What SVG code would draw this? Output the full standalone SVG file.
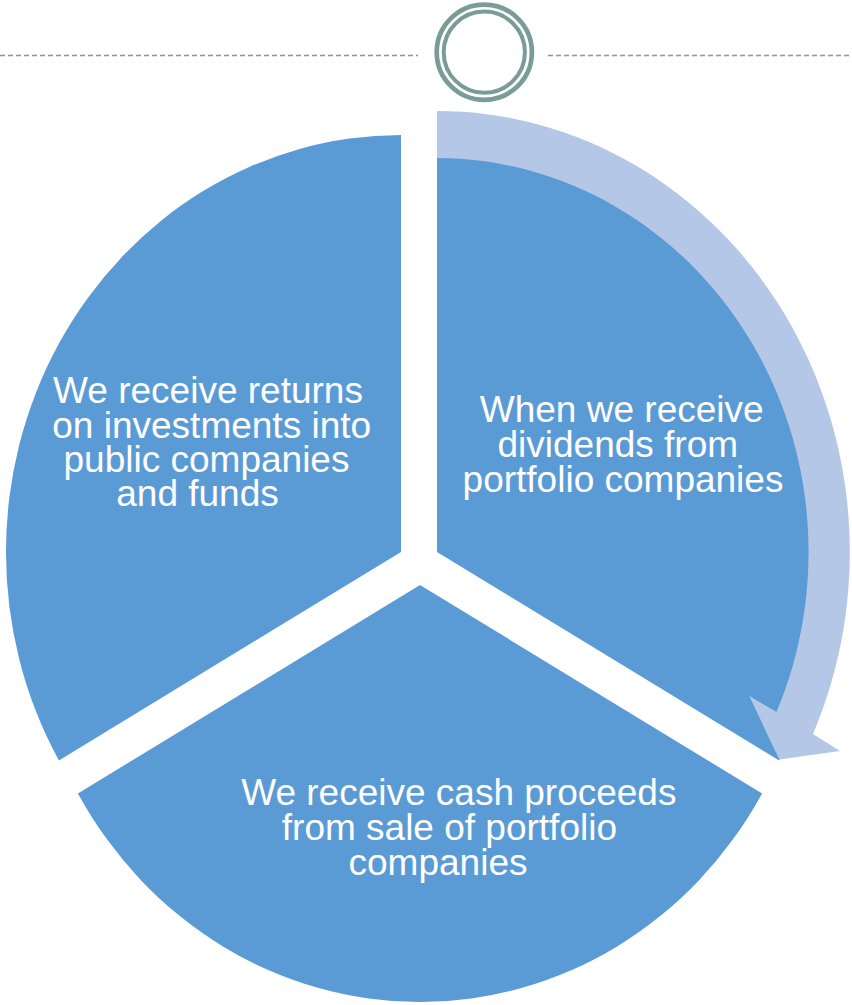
<svg xmlns="http://www.w3.org/2000/svg" width="852" height="1005" viewBox="0 0 852 1005">
  <style>
    .seg { fill: #5b9bd5; }
    .lbl { font-family: "Liberation Sans", Arial, sans-serif; font-size: 37px; fill: #ffffff; text-anchor: middle; }
    .deco { fill: none; stroke: #7a9c99; }
    .dash { stroke: #7a9c99; stroke-width: 1.7; stroke-dasharray: 5 3; fill: none; }
    .arrow { fill: #b4c7e7; }
  </style>
  <rect width="852" height="1005" fill="#ffffff"/>

  <g id="decoration">
    <line class="dash" x1="0" y1="55.5" x2="418" y2="55.5"/>
    <line class="dash" x1="548" y1="55.5" x2="852" y2="55.5"/>
    <circle class="deco" cx="484.3" cy="52.2" r="47.6" stroke-width="4.7"/>
    <circle class="deco" cx="484.3" cy="52.2" r="40.6" stroke-width="4"/>
  </g>

  <g id="node-dividends">
    <path class="seg" d="M437,552 L437,135 A395,417 0 0 1 779.1,760.5 Z"/>
  </g>

  <g id="connectors">
    <path class="arrow" d="M437,111 A413,441 0 0 1 813,734 L840,751 L779.3,759.5 L749.3,696 L776.5,712 A372,394 0 0 0 437,158 Z"/>
  </g>

  <g id="node-dividends-label">
    <text class="lbl" x="621.7" y="422">When we receive</text>
    <text class="lbl" x="617.8" y="456.7">dividends from</text>
    <text class="lbl" x="623" y="491.5">portfolio companies</text>
  </g>

  <g id="node-sale">
    <path class="seg" d="M420,585 L77.9,793.5 A395,417 0 0 0 762.1,793.5 Z"/>
    <text class="lbl" x="458.8" y="805">We receive cash proceeds</text>
    <text class="lbl" x="449.4" y="840">from sale of portfolio</text>
    <text class="lbl" x="438" y="875">companies</text>
  </g>

  <g id="node-returns">
    <path class="seg" d="M401,552 L401,135 A395,417 0 0 0 58.9,760.5 Z"/>
    <text class="lbl" x="208" y="403">We receive returns</text>
    <text class="lbl" x="211.7" y="437.7">on investments into</text>
    <text class="lbl" x="206.5" y="472.3">public companies</text>
    <text class="lbl" x="197.5" y="505.5">and funds</text>
  </g>
</svg>
